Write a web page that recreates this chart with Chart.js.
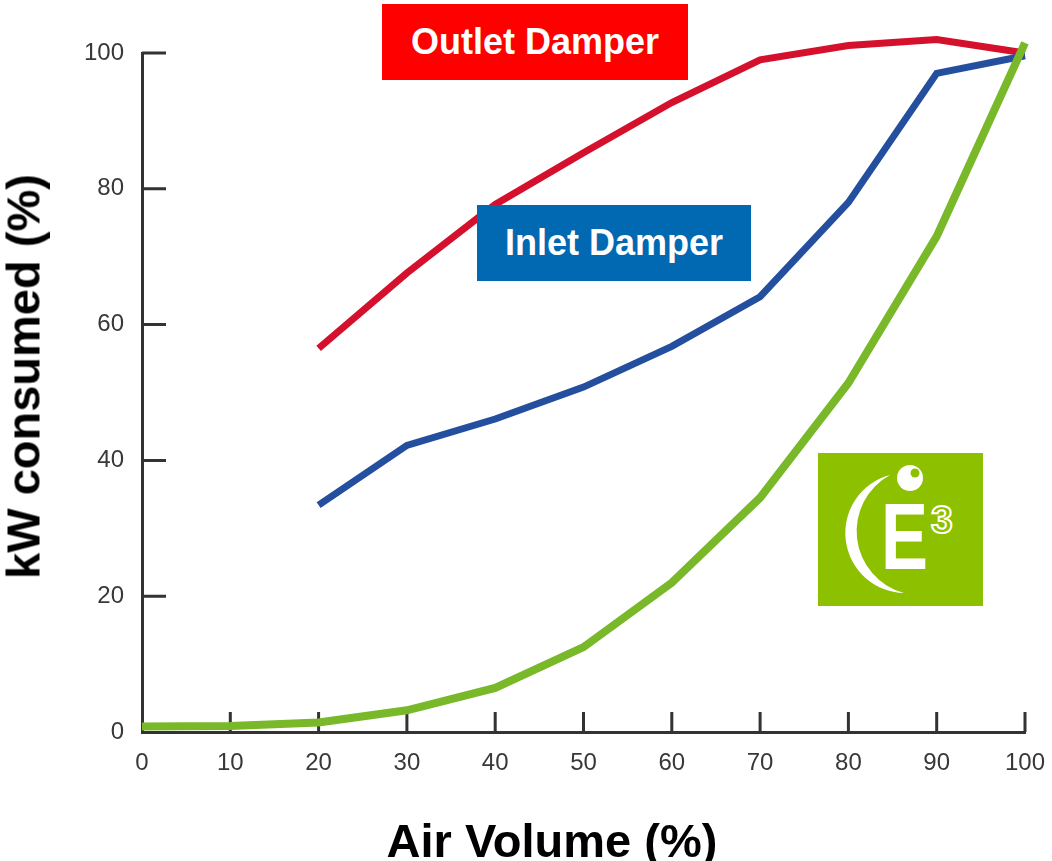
<!DOCTYPE html>
<html>
<head>
    <meta charset="UTF-8">
    <title>kW consumed vs Air Volume</title>
    <script src="https://cdn.jsdelivr.net/npm/chart.js"></script>
    <style>
        html, body {
            margin: 0;
            padding: 0;
            background: #ffffff;
        }
        .wrap {
            position: relative;
            width: 1052px;
            height: 861px;
            overflow: hidden;
        }
        .tag {
            position: absolute;
            display: flex;
            align-items: center;
            justify-content: center;
            color: #ffffff;
            font-family: "Liberation Sans", Arial, sans-serif;
            font-weight: bold;
            font-size: 36px;
        }
        #outletTag { left: 382px; top: 4px; width: 306px; height: 76px; background: #ff0000; }
        #inletTag { left: 477px; top: 205px; width: 274px; height: 76px; background: #0069b2; }
        #logo { position: absolute; left: 818px; top: 453px; width: 165px; height: 153px; }
        .axisTitle {
            position: absolute;
            font-family: "Liberation Sans", Arial, sans-serif;
            font-weight: bold;
            font-size: 47px;
            line-height: 47px;
            height: 47px;
            text-align: center;
            color: #000000;
            white-space: nowrap;
        }
        #xTitle { left: 252px; top: 817px; width: 600px; }
        #yTitle { left: -187px; top: 353px; width: 420px; transform: rotate(-90deg); }
    </style>
</head>
<body>
<div class="wrap">
    <canvas id="fanChart"></canvas>
    <div class="tag" id="outletTag">Outlet Damper</div>
    <div class="tag" id="inletTag">Inlet Damper</div>
    <div class="axisTitle" id="xTitle">Air Volume (%)</div>
    <div class="axisTitle" id="yTitle">kW consumed (%)</div>
    <svg id="logo" viewBox="0 0 165 153" xmlns="http://www.w3.org/2000/svg">
        <rect x="0" y="0" width="165" height="153" fill="#8dc100"/>
        <path d="M 72 22 A 60 60 0 0 0 86 140 A 64 64 0 0 1 72 22 Z" fill="#ffffff"/>
        <circle cx="92" cy="25" r="13" fill="#ffffff"/>
        <circle cx="97" cy="20" r="4.5" fill="#8dc100"/>
        <text x="63" y="116" font-family="Liberation Sans, Arial, sans-serif" font-weight="bold"
              font-size="95" fill="#ffffff" textLength="47" lengthAdjust="spacingAndGlyphs">E</text>
        <text x="113" y="80" font-family="Liberation Sans, Arial, sans-serif" font-weight="bold"
              font-size="39" fill="#8dc100" stroke="#ffffff" stroke-width="2">3</text>
    </svg>
</div>

<script>
// air volume (%) along the x axis
const airVolume = [0, 10, 20, 30, 40, 50, 60, 70, 80, 90, 100];

// kW consumed (%) for each control method, null = no reading
const outletDamper = [null, null, 56.5, 67.6, 77.7, 85.3, 92.7, 99, 101.1, 102, 100];
const inletDamper  = [null, null, 33.4, 42.2, 46.1, 50.8, 56.8, 64.1, 78, 97, 99.6];
const e3Drive      = [0.8, 0.9, 1.4, 3.2, 6.5, 12.5, 22, 34.5, 51.4, 73, 101.5];

const yTicks = [0, 20, 40, 60, 80, 100];

function toPoints(values) {
    return airVolume.map((x, i) => ({ x: x, y: values[i] }));
}

// short tick marks drawn inside the plot, as in the original
const innerTicks = {
    id: 'innerTicks',
    beforeDatasetsDraw(chart) {
        const ctx = chart.ctx;
        const xs = chart.scales.x;
        const ys = chart.scales.y;
        const area = chart.chartArea;
        ctx.save();
        ctx.strokeStyle = '#333333';
        ctx.lineWidth = 3;
        ctx.beginPath();
        airVolume.forEach(v => {
            if (v === 0) return;
            const px = xs.getPixelForValue(v);
            ctx.moveTo(px, area.bottom);
            ctx.lineTo(px, area.bottom - 20);
        });
        yTicks.forEach(v => {
            if (v === 0) return;
            const py = ys.getPixelForValue(v);
            ctx.moveTo(area.left, py);
            ctx.lineTo(area.left + 24, py);
        });
        ctx.stroke();
        ctx.restore();
    }
};

let fanChart;

function createChart() {
    const canvas = document.getElementById('fanChart');
    canvas.width = 1052;
    canvas.height = 861;

    fanChart = new Chart(canvas, {
        type: 'line',
        data: {
            datasets: [
                {
                    label: 'E3',
                    data: toPoints(e3Drive),
                    borderColor: '#78b829',
                    borderWidth: 8
                },
                {
                    label: 'Inlet Damper',
                    data: toPoints(inletDamper),
                    borderColor: '#244f9f',
                    borderWidth: 7
                },
                {
                    label: 'Outlet Damper',
                    data: toPoints(outletDamper),
                    borderColor: '#d5102d',
                    borderWidth: 7
                }
            ]
        },
        options: {
            responsive: false,
            animation: false,
            layout: { padding: { top: 53, right: 27, left: 0, bottom: 0 } },
            datasets: {
                line: { pointRadius: 0, tension: 0, clip: false, spanGaps: false }
            },
            plugins: {
                legend: { display: false },
                tooltip: { enabled: false }
            },
            scales: {
                x: {
                    type: 'linear',
                    min: 0,
                    max: 100,
                    afterFit(scale) {
                        scale.height = 129;
                        scale.paddingLeft = 0;
                        scale.paddingRight = 0;
                    },
                    afterBuildTicks(scale) { scale.ticks = airVolume.map(v => ({ value: v })); },
                    grid: { drawOnChartArea: false, drawTicks: false },
                    border: { display: true, color: '#333333', width: 3 },
                    ticks: {
                        padding: 17,
                        color: '#383838',
                        font: { family: 'Liberation Sans', size: 24 }
                    }
                },
                y: {
                    min: 0,
                    max: 100,
                    afterFit(scale) {
                        scale.width = 142;
                        scale.paddingTop = 0;
                        scale.paddingBottom = 0;
                    },
                    afterBuildTicks(scale) { scale.ticks = yTicks.map(v => ({ value: v })); },
                    grid: { drawOnChartArea: false, drawTicks: false },
                    border: { display: true, color: '#333333', width: 3 },
                    ticks: {
                        padding: 18,
                        color: '#383838',
                        font: { family: 'Liberation Sans', size: 24 }
                    }
                }
            }
        },
        plugins: [innerTicks]
    });
}

window.onload = createChart;
</script>
</body>
</html>
